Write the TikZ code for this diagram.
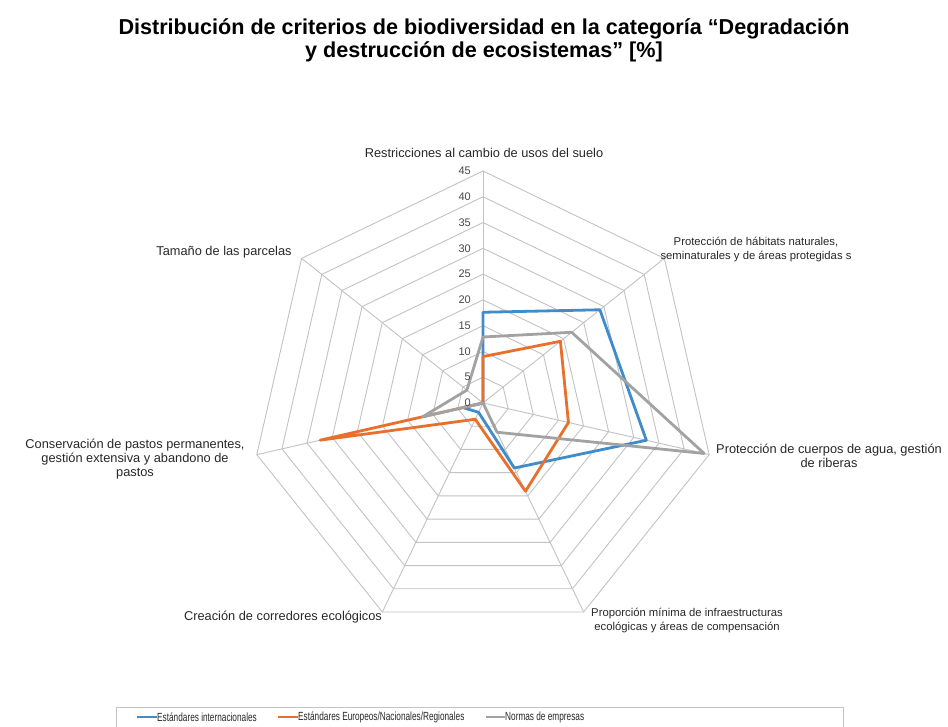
\documentclass[tikz,border=0pt]{standalone}
\usepackage{fontspec}
\setmainfont{Liberation Sans}
\newfontfamily\narrowfont[FakeStretch=0.70]{Liberation Sans}
\definecolor{cblue}{RGB}{66,139,202}
\definecolor{corange}{RGB}{232,112,44}
\definecolor{cgray}{RGB}{162,162,162}
\definecolor{cgrid}{RGB}{195,195,195}
\definecolor{ctext}{RGB}{40,40,40}
\tikzset{
  gridline/.style={draw=cgrid, line width=0.9pt},
  series/.style={line width=2.8pt, line join=round},
  axislabel/.style={font=\fontsize{12.8}{14}\selectfont, text=ctext, align=center, inner sep=0pt},
  smalllabel/.style={font=\fontsize{11.3}{14}\selectfont, text=ctext, align=center, inner sep=0pt},
  ticklabel/.style={font=\fontsize{11}{12}\selectfont, text=ctext!85, anchor=east, inner sep=0pt},
  titletext/.style={font=\bfseries\fontsize{21.6}{24}\selectfont, text=black, inner sep=0pt},
  legendtext/.style={font=\narrowfont\fontsize{11.8}{13}\selectfont, text=ctext, anchor=west, inner sep=0pt},
  legendline/.style={line width=2.8pt}
}
\begin{document}
\begin{tikzpicture}[x=1pt,y=-1pt]
\useasboundingbox (0,0) rectangle (948,727);
\clip (0,0) rectangle (948,727);
\fill[white] (0,0) rectangle (948,727);
% title
\node[titletext] (title1) at (484,29) {Distribución de criterios de biodiversidad en la categoría “Degradación};
\node[titletext] (title2) at (484,52) {y destrucción de ecosistemas” [\%]};
% radar
\begin{scope}[shift={(483,403)}, y=1pt]
  \def\s{5.1556}
  \def\aA{90}\def\aB{38.5714}\def\aC{-12.8571}\def\aD{-64.2857}
  \def\aE{-115.7143}\def\aF{-167.1429}\def\aG{141.4286}
  \foreach \v in {5,10,...,45}{
    \draw[gridline] (\aA:{\v*\s}) -- (\aB:{\v*\s}) -- (\aC:{\v*\s}) -- (\aD:{\v*\s})
      -- (\aE:{\v*\s}) -- (\aF:{\v*\s}) -- (\aG:{\v*\s}) -- cycle;
  }
  \foreach \a in {\aA,\aB,\aC,\aD,\aE,\aF,\aG}
    \draw[gridline] (0,0) -- (\a:{45*\s});
  % series
  \draw[series, cblue] (\aA:{17.6*\s}) -- (\aB:{29*\s}) -- (\aC:{32.5*\s}) -- (\aD:{14*\s})
      -- (\aE:{2*\s}) -- (\aF:{4*\s}) -- (\aG:{0*\s}) -- cycle;
  \draw[series, corange] (\aA:{9*\s}) -- (\aB:{19.2*\s}) -- (\aC:{17*\s}) -- (\aD:{19*\s})
      -- (\aE:{3.5*\s}) -- (\aF:{32.4*\s}) -- (\aG:{0*\s}) -- cycle;
  \draw[series, cgray] (\aA:{12.8*\s}) -- (\aB:{22*\s}) -- (\aC:{44*\s}) -- (\aD:{6.3*\s})
      -- (\aE:{0*\s}) -- (\aF:{12*\s}) -- (\aG:{4*\s}) -- cycle;
  % ticks
  \foreach \v in {0,5,...,45}
    \node[ticklabel] (tick\v) at (-12,{\v*\s}) {\v};
\end{scope}
% axis labels
\node[axislabel] (lA) at (484,153) {Restricciones al cambio de usos del suelo};
\node[smalllabel] (lB) at (756,250) {Protección de hábitats naturales,\\seminaturales y de áreas protegidas s};
\node[axislabel] (lC) at (829,456) {Protección de cuerpos de agua, gestión\\de riberas};
\node[smalllabel] (lD) at (687,621) {Proporción mínima de infraestructuras\\ecológicas y áreas de compensación};
\node[axislabel] (lE) at (283,617) {Creación de corredores ecológicos};
\node[axislabel] (lF) at (135,459) {Conservación de pastos permanentes,\\gestión extensiva y abandono de\\pastos};
\node[axislabel] (lG) at (224,252) {Tamaño de las parcelas};
% legend
\draw[draw=cgrid, line width=0.8pt] (116,707) rectangle (843,740);
\coordinate (b1) at (137,717); \coordinate (b2) at (157,717);
\coordinate (o1) at (278,717); \coordinate (o2) at (298,717);
\coordinate (g1) at (486,717); \coordinate (g2) at (505,717);
\draw[legendline, cblue] (b1) -- (b2);
\draw[legendline, corange] (o1) -- (o2);
\draw[legendline, cgray] (g1) -- (g2);
\node[legendtext] (leg1) at (b2) {Estándares internacionales};
\node[legendtext] (leg2) at (o2) {Estándares Europeos/Nacionales/Regionales};
\node[legendtext] (leg3) at (g2) {Normas de empresas};
\end{tikzpicture}
\end{document}
